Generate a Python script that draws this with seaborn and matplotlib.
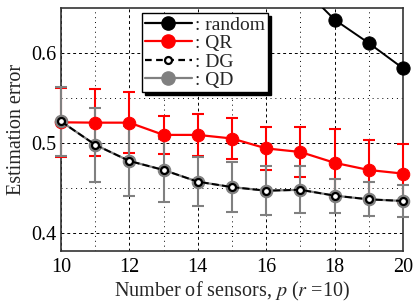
import numpy as np
import pandas as pd
import matplotlib
matplotlib.use('Agg')
import matplotlib.pyplot as plt
from matplotlib.patches import Rectangle
from matplotlib.lines import Line2D
import seaborn as sns

# dados
sensores = [10, 11, 12, 13, 14, 15, 16, 17, 18, 19, 20]
erro_random = [0.98, 0.93, 0.88, 0.83, 0.78, 0.74, 0.70, 0.675, 0.637, 0.611, 0.583]
erro_qr = [0.523, 0.5226, 0.5226, 0.509, 0.509, 0.505, 0.494, 0.490, 0.478, 0.470, 0.466]
std_qr = [0.038, 0.037, 0.034, 0.021, 0.023, 0.023, 0.024, 0.028, 0.038, 0.033, 0.033]
erro_dg = [0.524, 0.498, 0.480, 0.470, 0.457, 0.451, 0.447, 0.448, 0.4415, 0.4374, 0.4356]
erro_qd = [0.524, 0.498, 0.480, 0.470, 0.457, 0.451, 0.447, 0.448, 0.4415, 0.4374, 0.4356]
std_qd = [0.038, 0.041, 0.0385, 0.035, 0.027, 0.0275, 0.027, 0.026, 0.019, 0.019, 0.018]

sns.set_style('white')
plt.rcParams['font.family'] = ['Liberation Serif', 'DejaVu Serif']
plt.rcParams['mathtext.fontset'] = 'stix'

fig = plt.figure(figsize=(4.16, 3.06), dpi=100)
ax = fig.add_axes([61/416, 1 - 251/306, 342/416, 243/306])

# barras de erro (vermelho embaixo, cinza por cima)
ax.errorbar(sensores, erro_qr, yerr=std_qr, fmt='none', ecolor='red',
            elinewidth=1.5, capsize=4, capthick=1.5, clip_on=False, zorder=3)
ax.errorbar(sensores, erro_qd, yerr=std_qd, fmt='none', ecolor='#808080',
            elinewidth=1.5, capsize=4, capthick=1.5, clip_on=False, zorder=4)

sns.lineplot(x=sensores, y=erro_qr, ax=ax, color='red', marker='o', markersize=9,
             markeredgecolor='red', linewidth=1.6, zorder=5, clip_on=False)
sns.lineplot(x=sensores, y=erro_qd, ax=ax, color='#808080', marker='o', markersize=9,
             markeredgecolor='#808080', linewidth=1.6, zorder=6, clip_on=False)
sns.lineplot(x=sensores, y=erro_dg, ax=ax, color='black', marker='o', markersize=5,
             markerfacecolor='white', markeredgecolor='black', markeredgewidth=1.6,
             linewidth=1.4, linestyle='--', dashes=(3, 2), zorder=7, clip_on=False)
sns.lineplot(x=sensores, y=erro_random, ax=ax, color='black', marker='o', markersize=9.5,
             markeredgecolor='black', linewidth=1.4, zorder=8)
ax.lines[-1].set_clip_path(Rectangle((-0.1, -0.1), 1.2, 1.1, transform=ax.transAxes))

ax.set_xlim(10, 20)
ax.set_ylim(0.38, 0.65)
ax.set_xticks([10, 12, 14, 16, 18, 20])
ax.set_xticks([11, 13, 15, 17, 19], minor=True)
ax.set_yticks([0.4, 0.5, 0.6])
ax.set_yticks([0.45, 0.55], minor=True)
ax.set_yticklabels(['0.4', '0.5', '0.6'])
ax.grid(True, which='major', color='black', linestyle=(0, (3, 3)), linewidth=0.7)
ax.grid(True, which='minor', color='black', linestyle=(0, (1, 4)), linewidth=0.7)
ax.set_axisbelow(True)
ax.tick_params(which='both', length=0, labelsize=14.5, colors='black')
ax.tick_params(axis='x', pad=5)
ax.tick_params(axis='y', pad=3)
for s in ax.spines.values():
    s.set_color('#333333')
    s.set_linewidth(1.2)

ax.set_xlabel(r'Number of sensors, $p$ ($r$ =10)', fontsize=14.5, labelpad=2)
ax.set_ylabel('Estimation error', fontsize=14.5, labelpad=4)

handles = [
    Line2D([], [], color='black', marker='o', markersize=9.5, linewidth=1.6),
    Line2D([], [], color='red', marker='o', markersize=9.5, linewidth=1.6),
    Line2D([], [], color='black', marker='o', markersize=5, markerfacecolor='white',
           markeredgewidth=1.6, linestyle='--', dashes=(3, 2), linewidth=1.6),
    Line2D([], [], color='#808080', marker='o', markersize=9.5, linewidth=1.6),
]
leg = ax.legend(handles, [': random', ': QR', ': DG', ': QD'], loc='upper left',
                bbox_to_anchor=(142/416, 1 - 13/306), bbox_transform=fig.transFigure,
                borderaxespad=0, fontsize=14, handlelength=2.4, handletextpad=0.2,
                labelspacing=0.05, borderpad=0.15, fancybox=False,
                shadow={'color': 'black', 'alpha': 1},
                framealpha=1, edgecolor='black')
leg.get_frame().set_linewidth(1.0)
leg.set_zorder(10)

fig.savefig('out.png', dpi=100)
